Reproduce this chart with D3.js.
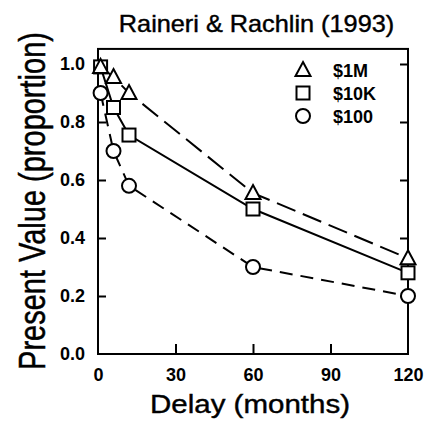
<!DOCTYPE html>
<html><head><meta charset="utf-8">
<script src="https://cdn.jsdelivr.net/npm/d3@7"></script>
<style>body{margin:0;background:#fff}svg{display:block}</style>
</head><body>
<script>
const delays = [1, 6, 12, 60, 120];
const v1M = [0.99, 0.955, 0.90, 0.555, 0.33];
const v10K = [0.99, 0.85, 0.755, 0.50, 0.28];
const v100 = [0.90, 0.70, 0.58, 0.30, 0.20];
const xTicks = [0, 30, 60, 90, 120];
const yTicks = [0.0, 0.2, 0.4, 0.6, 0.8, 1.0];
const seriesNames = ["$1M", "$10K", "$100"];

(function () {
const W = 427, H = 426;
const svg = d3.select("body").append("svg").attr("width", W).attr("height", H);
const x = d3.scaleLinear().domain([0, 120]).range([98, 408]);
const y = d3.scaleLinear().domain([0, 1]).range([354, 64]);
const frameTop = y(1.052);
const font = "'Liberation Sans', Arial, sans-serif";

// frame
svg.append("rect").attr("x", x(0)).attr("y", frameTop).attr("width", x(120) - x(0)).attr("height", y(0) - frameTop)
  .attr("fill", "none").attr("stroke", "#000").attr("stroke-width", 2);

// axes
const yAxisL = d3.axisLeft(y).tickValues(yTicks).tickSize(-8).tickFormat(d3.format(".1f")).tickPadding(13);
const gL = svg.append("g").attr("transform", `translate(${x(0)},0)`).call(yAxisL);
const yAxisR = d3.axisRight(y).tickValues(yTicks.slice(1)).tickSize(-8).tickFormat("");
const gR = svg.append("g").attr("transform", `translate(${x(120)},0)`).call(yAxisR);
const xAxis = d3.axisBottom(x).tickValues(xTicks).tickSize(-10).tickFormat(d3.format("d")).tickPadding(14);
const gB = svg.append("g").attr("transform", `translate(0,${y(0)})`).call(xAxis);
[gL, gR, gB].forEach(g => {
  g.select(".domain").remove();
  g.selectAll(".tick line").attr("stroke", "#000").attr("stroke-width", 2);
  g.selectAll("text").attr("font-family", font).attr("font-weight", "bold").attr("font-size", 18).attr("fill", "#000");
});
gL.selectAll(".tick").filter(d => d === 0).select("line").remove();
gB.selectAll(".tick").filter(d => d === 0 || d === 120).select("line").remove();

// series
const series = [
  {name: seriesNames[0], vals: v1M, dash: "20,8", shape: "triangle"},
  {name: seriesNames[1], vals: v10K, dash: null, shape: "square"},
  {name: seriesNames[2], vals: v100, dash: "13,8", shape: "circle"}
];
const line = d3.line().x(d => x(d[0])).y(d => y(d[1]));
function marker(g, shape, cx, cy) {
  if (shape === "triangle") {
    g.append("path").attr("d", `M${cx},${cy - 8}L${cx + 7.5},${cy + 6}L${cx - 7.5},${cy + 6}Z`)
      .attr("fill", "#fff").attr("stroke", "#000").attr("stroke-width", 2);
  } else if (shape === "square") {
    g.append("rect").attr("x", cx - 6.5).attr("y", cy - 6.5).attr("width", 13).attr("height", 13)
      .attr("fill", "#fff").attr("stroke", "#000").attr("stroke-width", 2);
  } else {
    g.append("circle").attr("cx", cx).attr("cy", cy).attr("r", 7)
      .attr("fill", "#fff").attr("stroke", "#000").attr("stroke-width", 2);
  }
}
series.forEach(s => {
  const pts = delays.map((d, i) => [d, s.vals[i]]);
  svg.append("path").attr("d", line(pts)).attr("fill", "none").attr("stroke", "#000")
    .attr("stroke-width", 2).attr("stroke-dasharray", s.dash);
});
[2, 1, 0].forEach(k => {
  const s = series[k];
  const g = svg.append("g");
  delays.forEach((d, i) => marker(g, s.shape, x(d), y(s.vals[i])));
});

// legend
series.forEach((s, i) => {
  const ly = 70 + i * 23;
  const g = svg.append("g");
  marker(g, s.shape, 303, ly);
  g.append("text").attr("x", 333).attr("y", ly + 6.5).text(s.name)
    .attr("font-family", font).attr("font-weight", "bold").attr("font-size", 18);
});

// titles
svg.append("text").attr("transform", "translate(256.5,32) scale(1.1,1)").attr("text-anchor", "middle")
  .attr("font-family", font).attr("font-size", 23).attr("stroke", "#000").attr("stroke-width", 0.4)
  .text("Raineri & Rachlin (1993)");
svg.append("text").attr("transform", "translate(250,413) scale(1.18,1)").attr("text-anchor", "middle")
  .attr("font-family", font).attr("font-size", 25).attr("stroke", "#000").attr("stroke-width", 0.4)
  .text("Delay (months)");
svg.append("text").attr("transform", "translate(45,201) scale(1.25,1) rotate(-90)").attr("text-anchor", "middle")
  .attr("font-family", font).attr("font-size", 29).attr("stroke", "#000").attr("stroke-width", 0.4)
  .text("Present Value (proportion)");
})();
</script>
</body></html>
